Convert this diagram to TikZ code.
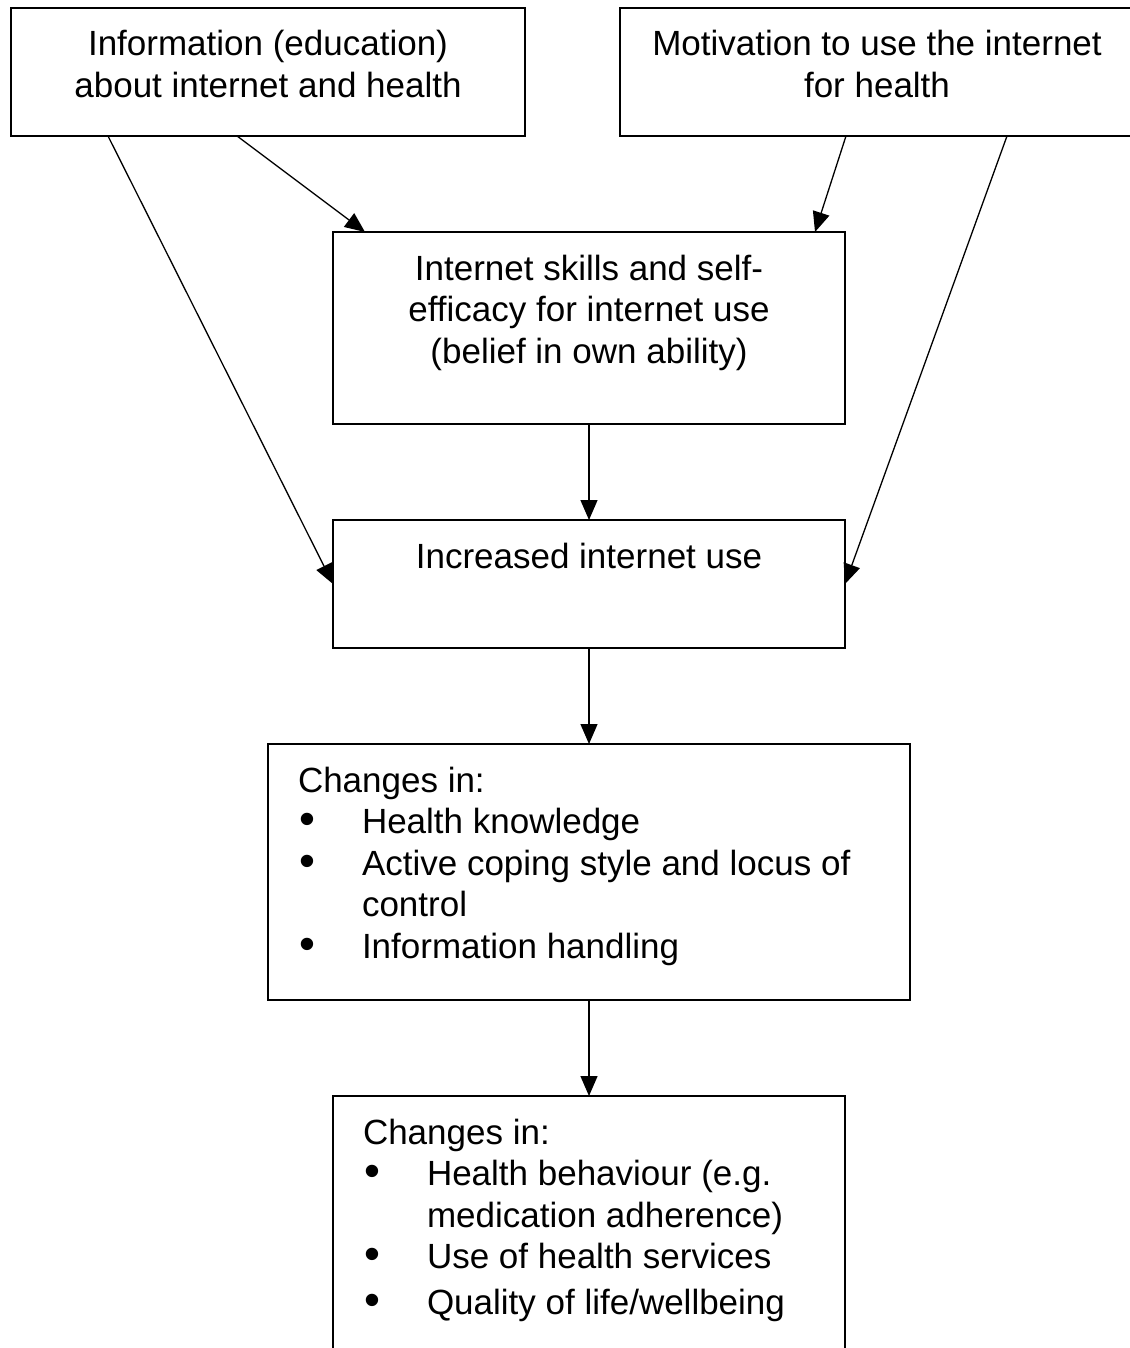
\documentclass[tikz,border=0pt]{standalone}
\usepackage{fontspec}
\setmainfont{Liberation Sans}
\usetikzlibrary{arrows.meta,positioning}

% box contents: centred text, or a list, set from the top of the box
\newcommand{\cbox}[3]{\parbox[c][#2][t]{#1}{\centering\rule{0pt}{48pt}#3}}
\newcommand{\lbox}[3]{\parbox[c][#2][t]{#1}{\raggedright\leftskip=30pt\rule{0pt}{48pt}#3}}
\newcommand{\dotmark}{\makebox[64pt][l]{\hspace{1pt}\raisebox{-1pt}{\scalebox{1.3}{\textbullet}}}}
\newcommand{\bul}{\par\dotmark}
\newcommand{\cont}{\\\hspace*{64pt}}

\begin{document}
\begin{tikzpicture}[
  box/.style={draw, line width=1.5pt, inner sep=0pt, outer sep=0pt,
  font=\fontsize{35pt}{41.5pt}\selectfont},
  arrow/.style={-{Triangle[length=20pt, width=17pt]}, line width=1.3pt}
]
  \useasboundingbox (0,0) rectangle (1129pt,-1348pt);
  \node[box] (skills) at (589pt,-328pt)
    {\cbox{512pt}{192pt}{Internet skills and self-\\efficacy for internet use\\(belief in own ability)}};
  \node[box, below=96pt of skills] (use)
    {\cbox{512pt}{128pt}{Increased internet use}};
  \node[box, below=96pt of use] (changes)
    {\lbox{642pt}{256pt}{Changes in:
      \bul Health knowledge
      \bul Active coping style and locus of\cont control
      \bul Information handling}};
  \node[box, below=96pt of changes] (outcomes)
    {\lbox{512pt}{270pt}{Changes in:
      \bul Health behaviour (e.g.\cont medication adherence)
      \bul Use of health services
      \par\vspace{4pt}\dotmark Quality of life/wellbeing}};
  \node[box, above=96pt of skills, xshift=-321pt] (info)
    {\cbox{514pt}{128pt}{Information (education)\\about internet and health}};
  \node[box, above=96pt of skills, xshift=288pt] (motiv)
    {\cbox{514pt}{128pt}{Motivation to use the internet\\for health}};
  \draw[arrow] ([xshift=-31pt]info.south) -- ([xshift=-224pt]skills.north);
  \draw[arrow] ([xshift=-160pt]info.south) -- (use.west);
  \draw[arrow] ([xshift=-31pt]motiv.south) -- ([xshift=226pt]skills.north);
  \draw[arrow] ([xshift=130pt]motiv.south) -- (use.east);
  \draw[arrow] (skills) -- (use);
  \draw[arrow] (use) -- (changes);
  \draw[arrow] (changes) -- (outcomes);
\end{tikzpicture}
\end{document}
